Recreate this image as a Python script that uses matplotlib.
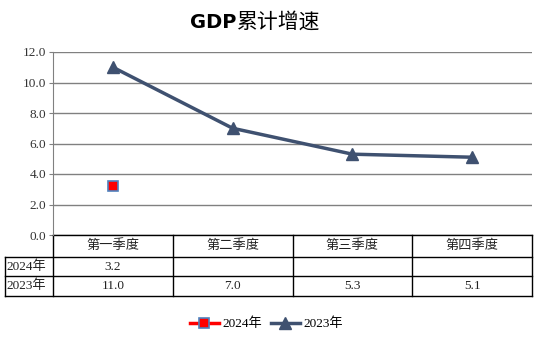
import matplotlib.pyplot as plt
from matplotlib.lines import Line2D

plt.rcParams['font.family'] = ['Liberation Serif', 'Noto Sans CJK SC']

quarters = ['第一季度', '第二季度', '第三季度', '第四季度']
series_names = ['2024年', '2023年']
gdp_2024 = [3.2, None, None, None]
gdp_2023 = [11.0, 7.0, 5.3, 5.1]
yticks = [0, 2, 4, 6, 8, 10, 12]

dark = '#3F5170'
fig = plt.figure(figsize=(5.44, 3.38), dpi=100)
ax = fig.add_axes([53/544, 1 - 235/338, 479/544, 183/338])

x = list(range(len(quarters)))
x24 = [i for i, v in zip(x, gdp_2024) if v is not None]
y24 = [v for v in gdp_2024 if v is not None]
ax.plot(x24, y24, color='red', lw=2.5, marker='s', ms=7, mfc='red',
        mec='#4F81BD', mew=1.2, zorder=4, clip_on=False)
ax.plot(x, gdp_2023, color=dark, lw=2.5, marker='^', ms=8.5, mfc=dark,
        mec=dark, zorder=3, clip_on=False)

ax.set_xlim(-0.5, len(quarters) - 0.5)
ax.set_ylim(0, 12)
ax.set_yticks(yticks)
ax.set_yticklabels(['%.1f' % t for t in yticks], fontsize=9.5, color='#333333')
ax.set_xticks([])
ax.tick_params(axis='y', length=3, color='#808080', pad=2)
ax.grid(axis='y', color='#808080', lw=1)
for s in ['top', 'right', 'bottom']:
    ax.spines[s].set_visible(False)
ax.spines['left'].set_color('#808080')

# data table under the axes
tr = ax.get_xaxis_transform()
px = 1 / 183.0
rows_y = [0, -22 * px, -41 * px, -61 * px]
left = -0.5 - 48 / 479 * 4
kw = dict(transform=tr, color='black', lw=1, clip_on=False)
ax.add_line(Line2D([-0.5, 3.5], [0, 0], **kw))
for yy in rows_y[1:]:
    ax.add_line(Line2D([left, 3.5], [yy, yy], **kw))
for i in range(len(quarters) + 1):
    ax.add_line(Line2D([i - 0.5, i - 0.5], [0, rows_y[-1]], **kw))
ax.add_line(Line2D([left, left], [rows_y[1], rows_y[-1]], **kw))

tk = dict(transform=tr, fontsize=9.5, ha='center', va='center', color='#222222')
for i, q in enumerate(quarters):
    ax.text(i, (rows_y[0] + rows_y[1]) / 2, q, **tk)
for r, (name, vals) in enumerate(zip(series_names, [gdp_2024, gdp_2023])):
    yc = (rows_y[r + 1] + rows_y[r + 2]) / 2
    ax.text(left + 0.01, yc, name, transform=tr, fontsize=9.5, ha='left',
            va='center', color='#222222')
    for i, v in enumerate(vals):
        if v is not None:
            ax.text(i, yc, '%.1f' % v, **tk)

ty = 1 - 22/338
fig.text(236/544, ty, 'GDP', ha='right', va='center', fontsize=14,
         fontweight='bold', family='DejaVu Sans')
fig.text(237/544, ty, '累计增速', ha='left', va='center', fontsize=15,
         family='Noto Sans CJK SC')

handles = [Line2D([], [], color='red', lw=2.5, marker='s', ms=7, mfc='red',
                  mec='#4F81BD', mew=1.2),
           Line2D([], [], color=dark, lw=2.5, marker='^', ms=8, mfc=dark)]
fig.legend(handles, series_names, loc='center', bbox_to_anchor=(0.49, 1 - 324/338),
           ncol=2, frameon=False, fontsize=9.5, handlelength=2.2,
           columnspacing=0.6, handletextpad=0.3)

fig.savefig('out.png', dpi=100)
